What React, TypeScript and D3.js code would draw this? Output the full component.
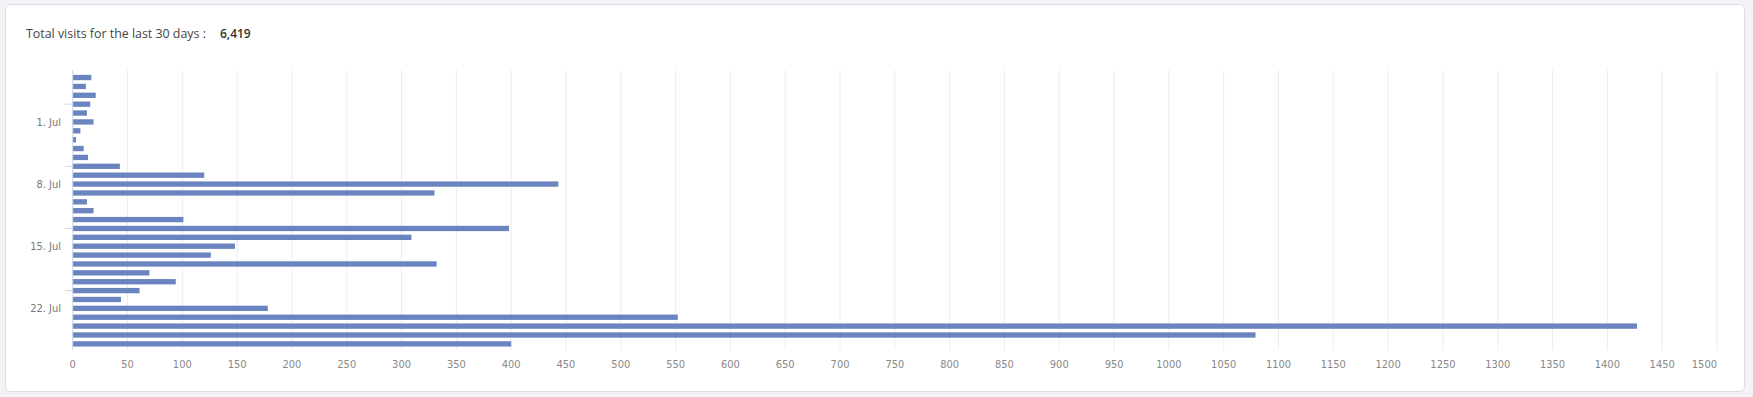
import React from "react";
import * as d3 from "d3";

const WIDTH = 1753;
const HEIGHT = 397;

const startDate = new Date(2024, 5, 26); // 26 Jun
const visits = [17, 12, 21, 16, 13, 19, 7, 3, 10, 14, 43, 120, 443, 330, 13, 19, 101, 398, 309, 148, 126, 332, 70, 94, 61, 44, 178, 552, 1427, 1079, 400];
const days = visits.map((_, i) => d3.timeDay.offset(startDate, i));
const labelDays = ["1. Jul", "8. Jul", "15. Jul", "22. Jul"];
const labelIdx = [5, 12, 19, 26];
const tickIdx = [3, 10, 17, 24];
const xTicks = d3.range(0, 1501, 50);
const totalVisits = "6,419";
const titleText = "Total visits for the last 30 days :";

const BAR = "#6a84bf";
const TICK_FONT = "'Liberation Sans Narrow', 'DejaVu Sans Condensed', 'Roboto', sans-serif";

export default function App() {
  const x = d3.scaleLinear().domain([0, 1500]).range([72.7, 1717]);
  const y = d3
    .scaleBand<number>()
    .domain(days.map((_, i) => i))
    .range([73.1, 348.3])
    .paddingInner(0.4)
    .paddingOuter(0.2);
  return (
    <div style={{ position: "absolute", left: 0, top: 0, width: WIDTH, height: HEIGHT }}>
      <svg width={WIDTH} height={HEIGHT} style={{ display: "block" }}>
        <rect x={0} y={0} width={WIDTH} height={HEIGHT} fill="#f2f3f7" />
        <rect x={5.5} y={4.5} width={1739} height={387} rx={4} fill="#ffffff" stroke="#dcdde3" />
        <text x={26} y={37.5} fontFamily="'Open Sans', sans-serif" fontSize={12.4} fill="#444">
          {titleText}
        </text>
        <text x={220} y={37.5} fontFamily="'Open Sans', sans-serif" fontSize={12} fontWeight={600} fill="#333">
          {totalVisits}
        </text>
        {xTicks.map((t) =>
          t === 0 ? null : (
            <line key={"g" + t} x1={x(t)} x2={x(t)} y1={70} y2={350} stroke="#ececf0" strokeWidth={1} />
          )
        )}
        {visits.map((v, i) => (
          <rect key={"b" + i} x={x(0)} y={y(i)!} width={x(v) - x(0)} height={y.bandwidth()} fill={BAR} />
        ))}
        <line x1={x(0)} x2={x(0)} y1={70} y2={350} stroke="#ccd6eb" />
        {tickIdx.map((i) => {
          const cy = (y(i) as number) + y.bandwidth() / 2;
          return <line key={"t" + i} x1={65} x2={x(0)} y1={cy} y2={cy} stroke="#ccd6eb" />;
        })}
        {labelIdx.map((i, k) => {
          const cy = (y(i) as number) + y.bandwidth() / 2;
          return (
            <text key={"l" + i} x={61} y={cy} dy="0.35em" textAnchor="end" fontFamily={TICK_FONT} fontSize={11} fill="#777">
              {labelDays[k]}
            </text>
          );
        })}
        {xTicks.map((t, k) => (
          <text
            key={"x" + t}
            x={x(t)}
            y={364}
            dy="0.35em"
            textAnchor={k === xTicks.length - 1 ? "end" : "middle"}
            fontFamily={TICK_FONT}
            fontSize={11}
            fill="#888"
          >
            {t}
          </text>
        ))}
      </svg>
    </div>
  );
}
